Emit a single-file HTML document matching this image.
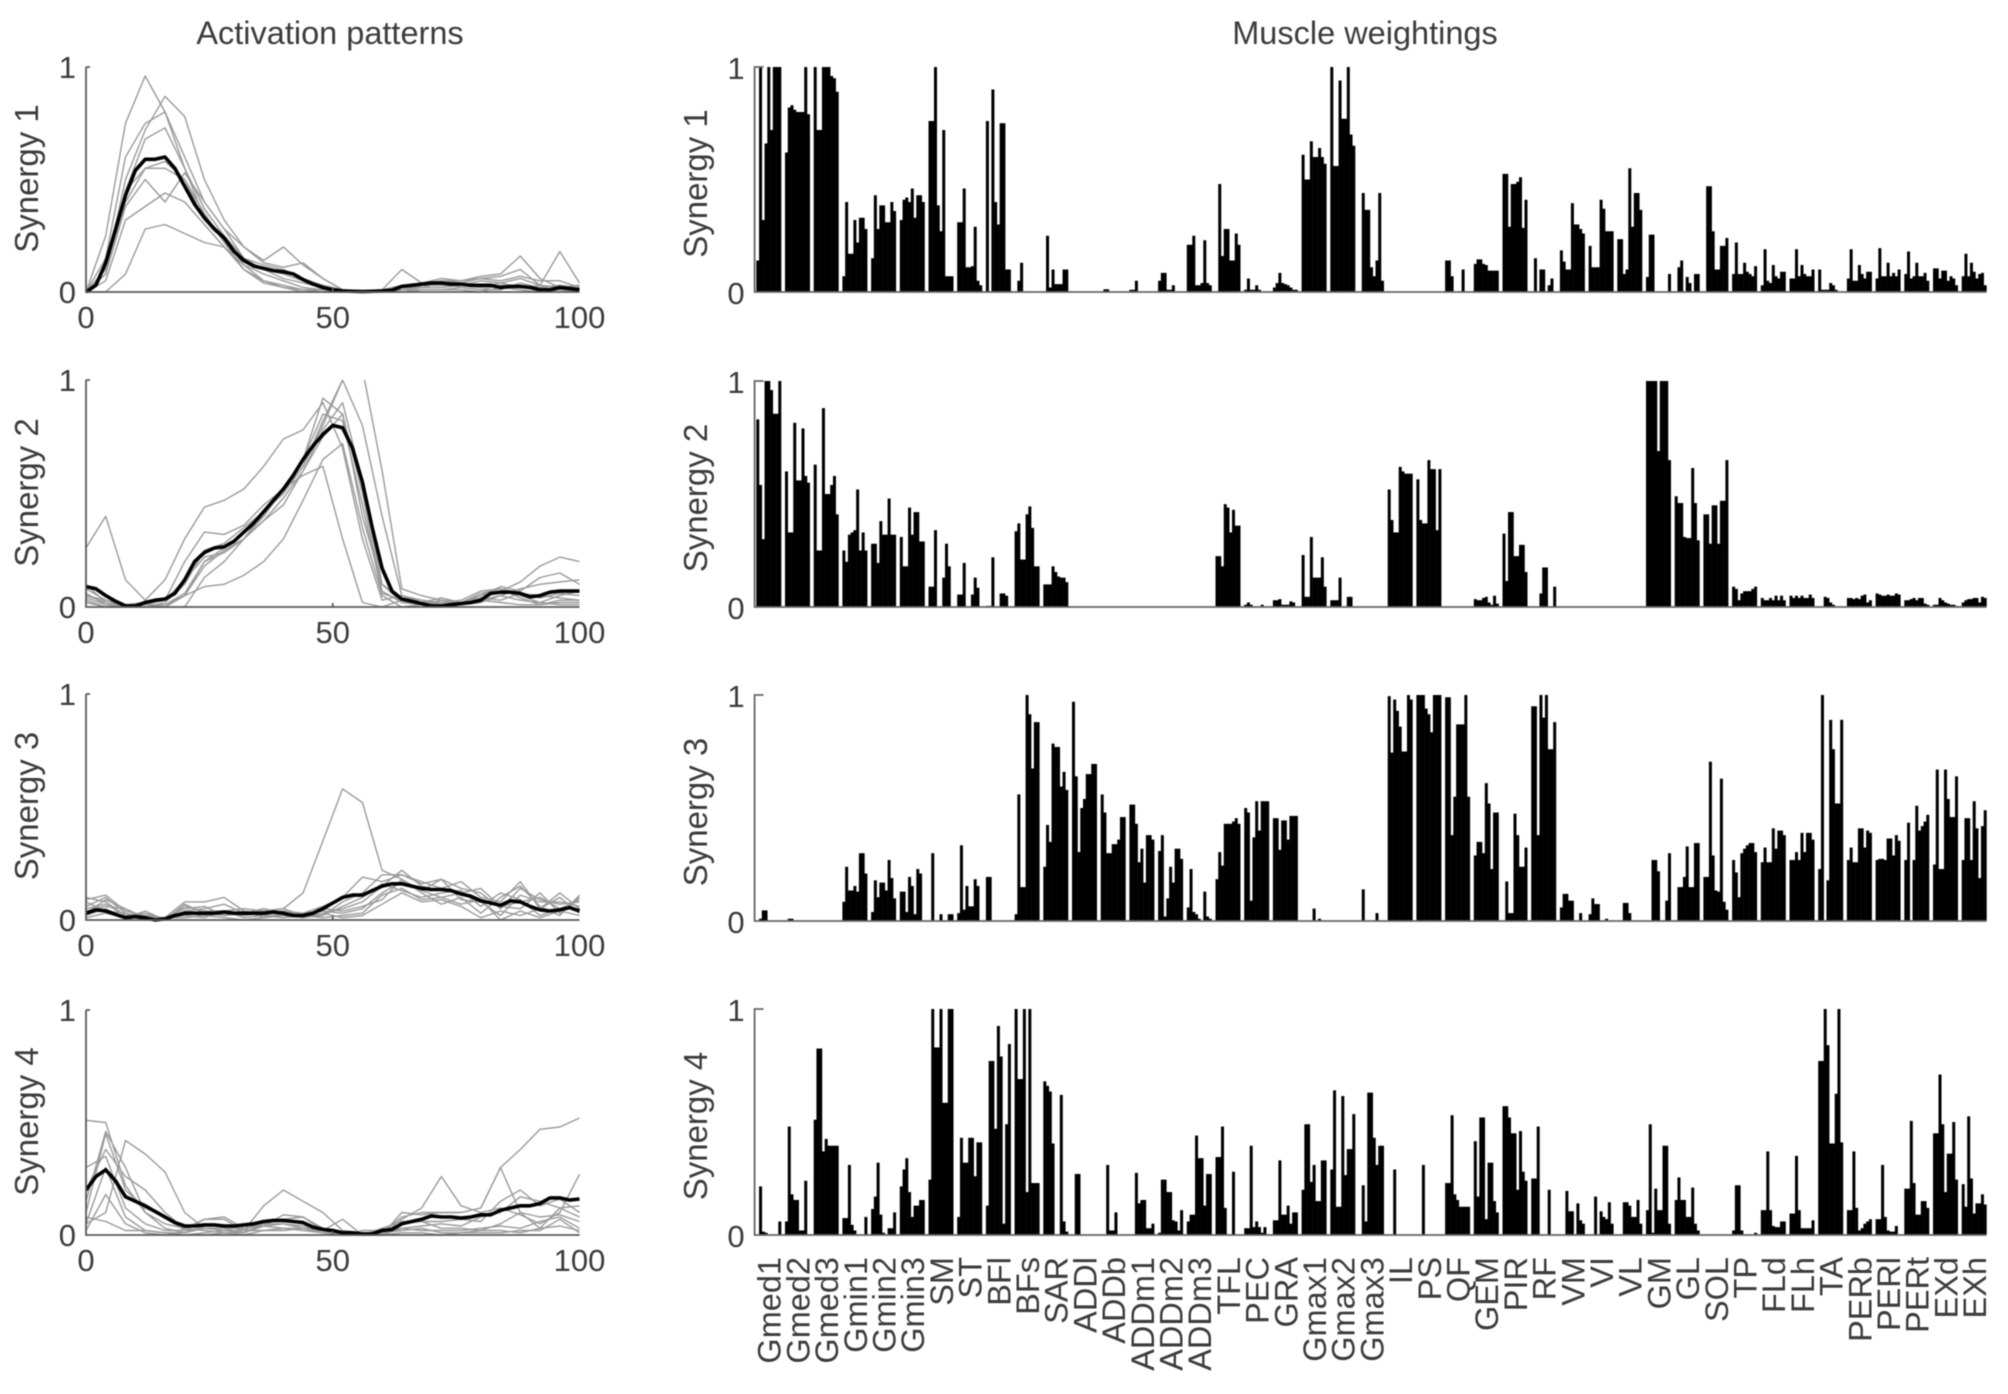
<!DOCTYPE html>
<html>
<head>
<meta charset="utf-8">
<style>
html,body{margin:0;padding:0;background:#fff;}
svg{display:block;filter:blur(0.45px);}
text{font-family:"Liberation Sans",sans-serif;fill:#3c3c3c;}
</style>
</head>
<body>
<svg id="chart" xmlns="http://www.w3.org/2000/svg" width="2008" height="1394" viewBox="0 0 2008 1394"></svg>
<script>
const muscleLabels=["Gmed1","Gmed2","Gmed3","Gmin1","Gmin2","Gmin3","SM","ST","BFl","BFs","SAR","ADDl","ADDb","ADDm1","ADDm2","ADDm3","TFL","PEC","GRA","Gmax1","Gmax2","Gmax3","IL","PS","QF","GEM","PIR","RF","VM","VI","VL","GM","GL","SOL","TP","FLd","FLh","TA","PERb","PERl","PERt","EXd","EXh"];
const xTickLabels=[0,50,100];
const yTickLabels=[0,1];
const panelNames=["Synergy 1","Synergy 2","Synergy 3","Synergy 4"];

const synergy1Weights=[
[.14,1,.32,.66,1,.72,1,1,1],[.62,.82,.83,.81,.8,.8,.8,1,.79],[1,.72,.72,1,1,1,.96,.95,.89],[.07,.4,.17,.17,.32,.22,.33,.33,.28],[.15,.43,.28,.385,.385,.31,.31,.4,.36],
[.32,.41,.42,.4,.46,.33,.43,.43,.4],[.76,.76,1,.385,.27,.72,.07,.07,.07],[.31,.31,.46,.11,.11,.115,.29,.05,.03],[.76,0,.9,.4,.3,.75,.75,.1,.1],[0,.05,.13,0,0,0,0,0,0],
[0,.25,.02,.1,.035,.035,.035,.1,.1],[0,0,0,0,0,0,0,0,0],[0,.012,.012,0,0,0,0,0,0],[.01,.01,.05,0,0,0,0,0,0],[.05,.085,.085,.01,.01,.03,0,0,0],
[.21,.21,.25,.03,.03,.04,.23,.04,.03],[0,.48,.16,.28,.28,.14,.14,.26,.21],[.01,.06,.01,.01,.03,.01,0,0,0],[.02,.04,.085,.04,.035,.03,.02,.01,.01],[.61,.5,.5,.67,.6,.6,.64,.6,.57],
[1,.56,.56,.94,.77,.77,1,.7,.65],[0,.44,.365,.365,.11,.07,.14,.44,.05],[0,0,0,0,0,0,0,0,0],[0,0,0,0,0,0,0,0,0],[.14,.14,.07,0,0,0,.1,0,0],
[.125,.145,.145,.125,.12,.095,.095,.095,.095],[.525,.525,.29,.48,.48,.49,.51,.285,.41],[0,.15,0,.1,.1,0,.03,.06,0],[.185,.135,.1,.1,.395,.3,.3,.28,.26],[.205,.11,.11,.11,.41,.37,.27,.27,.27],
[.235,.235,.08,.1,.55,.29,.44,.44,.365],[.067,.255,.255,0,0,0,0,0,.08],[0,.11,.14,0,.067,.04,0,.08,.08],[0,.47,.47,.27,.1,.1,.205,.205,.24],[.08,.22,.08,.08,.13,.09,.08,.07,.115],
[.03,.19,.05,.04,.12,.07,.06,.09,.09],[.06,.06,.19,.07,.12,.08,.07,.07,.1],[.1,.01,.01,.01,.04,.03,.01,0,0],[.06,.19,.05,.05,.12,.08,.06,.09,.09],[.06,.195,.07,.07,.13,.07,.085,.07,.1],
[.08,.18,.06,.07,.13,.07,.07,.085,.05],[.105,.105,.06,.095,.095,.05,.07,.06,.03],[.07,.17,.07,.13,.09,.06,.08,.085,.03]];

const synergy2Weights=[
[.83,.54,.3,1,1,.96,.855,.855,1],[.6,.33,.33,.815,.56,.56,.79,.58,.55],[.63,.25,.25,.88,.5,.5,.54,.58,.41],[.25,.2,.32,.33,.34,.52,.25,.33,.25],[.28,.28,.195,.38,.32,.32,.48,.32,.32],
[.31,.18,.18,.44,.32,.42,.42,.29,.29],[.09,.09,.34,0,0,.13,.28,.18,0],[.055,.055,.195,0,0,.055,.13,.085,0],[.005,.005,.22,0,0,.06,.06,.05,0],[.335,.37,.21,.21,.41,.445,.35,.18,.18],
[.1,.1,.1,.18,.155,.135,.13,.13,.11],[0,0,0,0,0,0,0,0,0],[0,0,0,0,0,0,0,0,0],[0,0,0,0,0,0,0,0,0],[0,0,0,0,0,0,0,0,0],
[0,0,0,0,0,0,0,0,0],[.225,.225,.18,.455,.44,.33,.43,.36,.36],[.01,.02,.01,0,0,0,.01,0,0],[.03,.03,.035,.01,.01,.01,.025,.02,0],[.23,.045,.045,.31,.13,.13,.13,.22,.09],
[.03,.03,.03,.13,0,0,.045,.045,0],[0,0,0,0,0,0,0,0,0],[.52,.385,.33,.33,.62,.6,.59,.59,.59],[.565,.385,.37,.37,.65,.61,.61,.34,.61],[0,0,0,0,0,0,0,0,0],
[.035,.03,.03,.04,.045,.02,.01,.05,.015],[.325,.115,.42,.42,.225,.225,.275,.275,.155],[0,0,0,.06,.175,.175,0,0,.09],[0,0,0,0,0,0,0,0,0],[0,0,0,0,0,0,0,0,0],
[0,0,0,0,0,0,0,0,0],[1,1,1,1,.69,1,1,1,.65],[.49,.46,.46,.31,.305,.305,.615,.46,.295],[.41,.41,.28,.45,.45,.28,.47,.47,.65],[.09,.08,.03,.06,.07,.07,.07,.08,.09],
[.04,.03,.03,.04,.03,.05,.03,.05,.03],[.05,.04,.05,.04,.05,.04,.04,.055,.04],[0,0,.045,.04,.02,.01,0,0,0],[.04,.04,.035,.04,.035,.05,.055,.02,.03],[.06,.055,.05,.05,.055,.05,.05,.06,.055],
[.03,.03,.035,.04,.03,.04,.04,.015,.01],[.01,.01,.04,.03,.02,.015,.01,.01,.005],[.02,.03,.035,.035,.04,.04,.02,.045,.04]];

const synergy3Weights=[
[0,.01,.047,.047,0,0,0,0,0],[0,.01,.01,0,0,0,0,0,0],[0,0,0,0,0,0,0,0,0],[.085,.24,.135,.135,.155,.13,.3,.3,.21],[.04,.18,.105,.17,.17,.135,.27,.19,.1],
[.13,.13,.04,.195,.155,.03,.23,.21,0],[0,.3,0,0,.03,0,0,.03,.03],[.035,.335,.05,.155,.065,.065,.185,.155,0],[.195,.195,0,0,0,0,0,0,0],[.03,.56,.15,.15,1,.915,.675,.88,.88],
[.24,.425,.35,.785,.77,.77,.595,.66,.58],[.97,.64,.305,.5,.54,.65,.65,.695,.695],[.56,.48,.3,.3,.34,.34,.36,.46,.46],[.515,.515,.43,.26,.32,.17,.38,.38,.36],[.31,.38,.02,.1,.24,.17,.32,.32,.275],
[.06,.23,.04,.03,.01,0,.13,.02,.01],[.185,.305,.245,.43,.43,.43,.44,.455,.43],[.5,.48,.09,.37,.53,.4,.53,.53,.53],[.455,.455,.315,.445,.445,.36,.465,.465,.465],[0,0,0,0,.055,0,.01,0,0],
[0,0,0,0,0,0,0,0,0],[0,.14,0,0,0,0,.035,0,0],[.995,.745,.98,.93,.86,.75,.75,1,.98],[1,1,1,.94,.915,.835,1,1,1],[.99,.99,.38,.55,.87,.87,.87,1,.55],
[.29,.35,.35,.3,.61,.52,.23,.48,.48],[0,.175,.035,.035,.475,.38,.24,.24,.325],[.95,.95,.38,1,.9,1,.76,.76,.88],[.06,.12,.12,.09,.09,0,0,.035,0],[.03,.1,.075,.075,0,0,.01,0,0],
[0,0,.08,.08,.035,0,0,0,0],[0,0,.27,.27,.22,0,0,.09,.3],[0,.15,.15,.195,.33,.15,.15,.345,.345],[.195,.195,.705,.29,.135,.13,.63,.085,.05],[.27,.215,.105,.3,.32,.335,.345,.345,.305],
[.26,.325,.26,.26,.41,.32,.4,.4,.38],[.27,.27,.305,.27,.39,.305,.39,.39,.36],[.23,1,0,.18,.89,.76,.52,.52,.89],[.27,.325,.26,.26,.41,.41,.325,.4,.39],[.27,.275,.275,.27,.365,.365,.29,.38,.355],
[.27,.435,0,.27,.51,.4,.42,.44,.47],[.25,.67,.23,.23,.67,.54,.46,.46,.64],[.27,.455,.455,.27,.53,.41,.19,.42,.49]];

const synergy4Weights=[
[0,.215,.015,.01,0,0,0,0,.06],[.06,.48,.18,.155,.155,.02,.02,.24,0],[.51,.825,.825,.37,.425,.395,.395,.395,.395],[.075,.075,.31,.045,.02,0,0,0,.08],[.115,.17,.32,.09,.01,0,.03,.03,.1],
[.215,.29,.34,.19,.08,.13,.13,.155,.155],[.245,1,.83,.83,1,.585,.585,1,1],[.08,.43,.32,.32,.43,.43,.26,.41,.41],[.13,.77,.77,.47,.925,.79,.05,.49,.845],[1,.69,.69,1,.19,1,.23,.23,.23],
[.68,.66,.635,.405,0,0,.62,.06,.015],[0,.27,.27,0,0,0,0,0,0],[0,0,.31,.02,.02,.1,0,0,0],[0,0,.275,.14,.155,.155,.03,.03,.05],[.01,.245,.245,.19,.19,.065,.06,.02,.11],
[.06,.09,.09,.44,.34,.34,.13,.27,.27],[.345,.345,.48,.12,0,0,.28,0,0],[.03,.03,.395,.035,.06,.035,.01,.035,0],[.065,.065,.33,.09,.09,.13,.05,.1,.1],[.2,.49,.49,.235,.31,.15,.15,.33,.33],
[.29,.64,.125,.125,.615,.265,.38,.38,.535],[0,.22,.06,.63,.63,.43,.31,.395,.395],[0,0,.29,0,0,0,0,0,0],[0,0,.31,0,0,0,0,0,0],[.23,.23,.53,.18,.155,.125,.125,.125,.125],
[.415,.17,.52,.52,.07,.32,.32,.15,.1],[.57,.57,.52,.45,.45,.2,.46,.28,.24],[.25,.25,.48,0,0,0,.2,0,0],[0,0,.195,.105,.105,0,.14,.065,.05],[0,0,.17,0,.105,.08,.07,.145,.05],
[0,0,.145,.145,.13,.08,.08,.155,.05],[.11,.49,.01,.205,.11,.11,.395,.395,.05],[.155,.255,.155,.155,.08,.08,.21,.05,.02],[0,0,0,0,0,0,0,0,0],[.02,.22,.22,.02,0,0,0,0,.01],
[.11,.11,.37,.11,.04,.035,.035,.06,.06],[.095,.095,.35,.11,.03,.03,.03,.03,.065],[.77,.77,1,.84,.405,.405,.625,1,.41],[.11,.11,.37,.12,.02,.03,.05,.06,.07],[.07,.07,.31,.08,.02,.015,.015,.04,0],
[.205,.205,.505,.23,.09,.09,.15,.15,.12],[.45,.45,.71,.49,.19,.36,.36,.5,.245],[.225,.125,.525,.25,.095,.14,.14,.18,.135]];

const subjectX=[0,4,8,12,16,20,24,28,32,36,40,44,48,52,56,60,64,68,72,76,80,84,88,92,96,100];
const meanX=[0,2,4,6,8,10,12,14,16,18,20,22,24,26,28,30,32,34,36,38,40,42,44,46,48,50,52,54,56,58,60,62,64,66,68,70,72,74,76,78,80,82,84,86,88,90,92,94,96,98,100];

const synergy1Subjects=[
[0,.25,.75,.96,.8,.55,.33,.25,.15,.12,.1,.06,.03,.01,0,.01,.03,.02,.04,.03,.05,.04,.06,.03,.02,.01],
[0,.1,.5,.72,.87,.78,.5,.32,.2,.14,.2,.12,.06,.01,0,.01,.1,.04,.05,.05,.06,.07,.1,.03,.18,.04],
[0,.15,.6,.75,.8,.6,.4,.28,.2,.13,.11,.13,.06,.01,0,0,.02,.04,.06,.05,.07,.08,.16,.06,.02,.03],
[0,.08,.45,.68,.73,.55,.37,.25,.15,.1,.08,.05,.03,.01,0,0,.01,.03,.05,.04,.06,.05,.07,.05,.05,.02],
[0,.1,.45,.55,.58,.5,.32,.24,.12,.08,.05,.02,.01,0,0,0,.02,.03,.03,.03,.02,.03,.02,.02,.03,.02],
[0,.08,.38,.5,.4,.53,.4,.28,.15,.1,.06,.04,.02,.01,0,.01,.01,.02,.04,.02,.01,.03,.03,.02,.01,.01],
[0,.05,.32,.38,.44,.4,.3,.2,.1,.05,.03,.01,.01,0,0,0,.01,.01,.01,.02,.01,.01,.04,.02,.03,.02],
[0,0,.08,.28,.3,.26,.22,.2,.12,.05,.02,.01,0,0,0,0,.01,.02,.02,.03,.02,.04,.02,.03,.02,.03],
[0,.1,.4,.55,.55,.5,.35,.22,.1,.04,.02,0,0,0,0,0,0,.01,.01,.01,0,.02,.01,0,.01,0]];
const synergy1Mean=[0,.03,.13,.28,.43,.54,.59,.59,.6,.55,.47,.39,.33,.28,.24,.18,.14,.115,.105,.095,.09,.08,.055,.035,.02,.01,.005,.003,.002,.003,.005,.008,.025,.03,.035,.04,.04,.035,.035,.03,.03,.03,.02,.025,.025,.02,.01,.01,.02,.015,.01];

const synergy2Subjects=[
[.26,.4,.12,.03,.12,.3,.44,.47,.52,.62,.74,.78,.9,.7,.3,.03,.05,.02,.04,.02,.05,.07,.11,.18,.22,.2],
[.05,.03,0,0,.02,.1,.25,.28,.35,.42,.5,.62,.8,1,1.05,.6,.08,.05,.03,.02,.03,.05,.08,.1,.11,.12],
[.1,.02,0,0,.01,.05,.18,.25,.3,.42,.5,.62,.82,1,.8,.4,.05,.03,.01,.02,.04,.07,.05,.02,.05,.07],
[.05,.02,0,0,0,.05,.2,.26,.33,.4,.52,.65,.92,.85,.4,.1,.02,.01,.03,.02,.06,.08,.04,.01,.03,.03],
[.04,.01,0,0,0,0,.13,.2,.3,.4,.52,.58,.62,.3,.02,0,.03,.02,.01,.01,.02,.05,.03,.02,.01,.01],
[.02,0,0,0,0,.05,.09,.1,.14,.2,.3,.47,.65,.72,.35,.05,0,.01,.01,.02,.04,.03,.06,.05,.04,.03],
[.03,0,0,.01,.01,.06,.2,.24,.3,.38,.45,.6,.75,.85,.5,.07,.02,.02,.02,.03,.07,.08,.06,.04,.06,.05],
[.06,.01,0,.01,.03,.2,.33,.32,.36,.45,.52,.65,.85,.82,.45,.06,.03,.02,.01,.02,.03,.02,.01,.01,.02,.02],
[.08,.03,.01,.02,.03,.12,.22,.24,.3,.38,.48,.6,.78,.9,.55,.1,.04,.03,.02,.02,.05,.09,.07,.13,.15,.1]];
const synergy2Mean=[.09,.08,.05,.025,.005,.005,.02,.03,.035,.06,.12,.2,.24,.26,.265,.29,.33,.37,.42,.47,.52,.58,.65,.71,.76,.8,.79,.7,.55,.35,.17,.07,.035,.025,.015,.005,.005,.01,.015,.02,.03,.06,.065,.065,.06,.045,.05,.065,.07,.07,.07];

const synergy3Subjects=[
[.03,.09,.05,0,0,.04,.05,.07,.03,.04,.05,.12,.35,.58,.52,.22,.18,.13,.1,.12,.09,.06,.08,.1,.05,.05],
[.06,.1,.03,.01,.01,.08,.08,.1,.04,.03,.03,.03,.06,.1,.19,.17,.2,.16,.18,.14,.12,.05,.14,.09,.07,.08],
[.1,.08,.02,.03,0,.06,.04,.04,.05,.04,.05,.02,.02,.08,.12,.2,.2,.17,.14,.17,.1,.08,.17,.05,.12,.05],
[.04,.06,.05,.01,0,.07,.03,.02,.03,.05,.03,.01,.03,.05,.08,.15,.22,.15,.13,.12,.14,.06,.05,.12,.03,.1],
[.02,.05,.01,.04,0,.03,.02,.03,.02,.03,.04,.03,.04,.03,.05,.12,.17,.13,.18,.09,.08,.02,.11,.08,.08,.06],
[.09,.11,.04,.02,.01,.05,.06,.02,.03,.02,.02,.01,.02,.06,.1,.16,.13,.1,.12,.13,.06,.12,.09,.02,.05,.09],
[.05,.07,.02,0,.01,.02,.01,.04,.01,.02,.01,.02,.05,.04,.06,.09,.18,.12,.07,.1,.03,.1,.15,.06,.02,.11],
[.01,.03,.01,.01,0,.04,.03,.02,.04,.01,.03,.02,.01,.02,.03,.11,.14,.09,.1,.07,.09,0,.04,.01,.04,.02],
[.08,.04,.03,.01,.01,.01,.02,.01,0,.01,.02,.01,.03,.01,.02,.07,.12,.08,.09,.06,.01,.04,.02,.05,.1,.03]];
const synergy3Mean=[.03,.045,.04,.025,.01,.015,.01,0,.005,.02,.03,.03,.03,.03,.035,.03,.03,.03,.03,.035,.03,.02,.02,.03,.05,.075,.1,.11,.11,.13,.15,.16,.16,.15,.14,.135,.135,.13,.115,.105,.085,.075,.065,.085,.08,.06,.045,.04,.045,.055,.04];

const synergy4Subjects=[
[.3,.35,.12,.05,.02,.02,.03,.03,.03,.05,.05,.03,.01,.01,0,.01,.08,.1,.1,.1,.12,.3,.38,.47,.48,.52],
[.05,.1,.42,.36,.28,.1,.03,.02,.02,.02,.02,.03,.01,0,0,0,.07,.12,.26,.13,.1,.12,.09,.05,.1,.27],
[.1,.45,.2,.12,.08,.02,.07,.07,.02,.13,.2,.15,.1,.02,.01,0,.1,.09,.1,.1,.12,.3,.1,.03,.12,.08],
[.51,.5,.22,.1,.05,.03,.02,.01,.01,.05,.07,.08,.02,.07,0,.03,.06,.06,.06,.07,.06,.15,.2,.13,.16,.1],
[.2,.38,.26,.2,.1,.03,.07,.08,.03,.04,.09,.08,.03,0,.02,.02,.03,.04,.05,.04,.08,.1,.17,.15,.12,.13],
[.15,.46,.3,.1,.03,.01,.04,.04,.02,.06,.06,.06,.02,0,0,.01,.05,.06,.03,.03,.02,.05,.1,.08,.09,.06],
[.05,.3,.08,.02,.01,0,.01,.02,.01,.04,.05,.04,.01,0,0,0,.03,.02,.02,.02,.03,.04,.03,.06,.08,.03],
[.08,.06,.02,.02,.01,.01,.03,.03,.01,.04,.03,.03,.02,0,0,.01,.02,.03,.01,.01,.02,.02,.01,.03,.04,.02],
[.02,.18,.05,.01,0,0,0,.01,0,.02,.03,.02,.01,0,0,0,.01,.01,0,.01,.01,.01,.02,.02,.07,.01]];
const synergy4Mean=[.2,.26,.29,.24,.17,.15,.13,.105,.08,.055,.04,.04,.045,.045,.04,.04,.045,.05,.06,.065,.065,.06,.055,.035,.025,.02,.01,.01,.005,.005,.02,.025,.05,.06,.07,.085,.08,.08,.075,.08,.09,.09,.11,.12,.13,.13,.14,.165,.165,.155,.16];

const weightSets=[synergy1Weights,synergy2Weights,synergy3Weights,synergy4Weights];
const subjectSets=[synergy1Subjects,synergy2Subjects,synergy3Subjects,synergy4Subjects];
const meanSets=[synergy1Mean,synergy2Mean,synergy3Mean,synergy4Mean];

const NS='http://www.w3.org/2000/svg';
const svg=document.getElementById('chart');
const leftTop=[67,380,694,1010], leftBottom=[292,607,920,1235];
const rightTop=[67,381,695,1009], rightBottom=[292,607,921,1235];
const leftX0=86, leftX1=579.5, rightX0=754.6, groupPitch=28.7, barPitch=2.75, groupInset=1.7;

function mk(tag,attrs,parent){
  const el=document.createElementNS(NS,tag);
  for(const k in attrs) el.setAttribute(k,attrs[k]);
  (parent||svg).appendChild(el);
  return el;
}
function xLeft(v){return leftX0+(leftX1-leftX0)*v/100;}
function yLeft(p,v){return leftBottom[p]-(leftBottom[p]-leftTop[p])*v;}
function yRight(p,v){return rightBottom[p]-(rightBottom[p]-rightTop[p])*v;}
function xBar(g,j){return rightX0+groupInset+groupPitch*g+barPitch*j;}

const defs=mk('defs',{});
for(let p=0;p<4;p++){
  const cp=mk('clipPath',{id:'clip-left-'+p},defs);
  mk('rect',{x:leftX0,y:leftTop[p],width:leftX1-leftX0+2,height:leftBottom[p]-leftTop[p]+2},cp);
}

const t1=mk('text',{x:330,y:44,'font-size':32.5,'text-anchor':'middle'});


t1.textContent='Activation patterns';
const t2=mk('text',{x:1365,y:44,'font-size':32.5,'text-anchor':'middle'});


t2.textContent='Muscle weightings';

for(let p=0;p<4;p++){
  /* ---------- left: activation pattern ---------- */
  const gL=mk('g',{});
  
  
  const lines=mk('g',{'clip-path':'url(#clip-left-'+p+')',fill:'none'},gL);
  subjectSets[p].forEach(function(series,s){
    const pts=series.map(function(v,i){return xLeft(subjectX[i]).toFixed(1)+','+yLeft(p,v).toFixed(1);}).join(' ');
    const pl=mk('polyline',{points:pts,stroke:'#9a9a9a','stroke-width':1.4,'stroke-linejoin':'round'},lines);
    
    
  });
  const mpts=meanSets[p].map(function(v,i){return xLeft(meanX[i]).toFixed(1)+','+yLeft(p,v).toFixed(1);}).join(' ');
  const ml=mk('polyline',{points:mpts,stroke:'#000','stroke-width':3.6,'stroke-linejoin':'round'},lines);
  
  

  const axL=mk('path',{d:'M'+leftX0+' '+leftTop[p]+'H'+(leftX0+4)+'M'+leftX0+' '+leftTop[p]+'V'+leftBottom[p]+'H'+leftX1+'M'+xLeft(50)+' '+leftBottom[p]+'v-4',stroke:'#5a5a5a','stroke-width':1.8,fill:'none'},gL);
  
  

  yTickLabels.forEach(function(v){
    const tx=mk('text',{x:leftX0-10,y:yLeft(p,v)+11,'font-size':31,'text-anchor':'end'},gL);
    
    
    tx.textContent=v;
  });
  xTickLabels.forEach(function(v){
    const tx=mk('text',{x:xLeft(v),y:leftBottom[p]+36,'font-size':31,'text-anchor':'middle'},gL);
    
    
    tx.textContent=v;
  });
  const ylab=mk('text',{'font-size':33,'text-anchor':'middle',transform:'translate(38,'+((leftTop[p]+leftBottom[p])/2-1)+') rotate(-90)'},gL);
  
  
  ylab.textContent=panelNames[p];

  /* ---------- right: muscle weightings ---------- */
  const gR=mk('g',{});
  
  
  weightSets[p].forEach(function(group,g){
    group.forEach(function(v,j){
      const y=yRight(p,v);
      const r=mk('rect',{x:xBar(g,j).toFixed(2),y:y.toFixed(2),width:barPitch+0.25,height:(rightBottom[p]-y).toFixed(2),fill:'#000'},gR);
      
      
    });
  });
  const axR=mk('path',{d:'M'+(rightX0+9)+' '+rightTop[p]+'H'+rightX0+'V'+rightBottom[p]+'H'+(xBar(42,9)),stroke:'#666','stroke-width':1.8,fill:'none'},gR);
  
  
  yTickLabels.forEach(function(v){
    const tx=mk('text',{x:rightX0-10,y:yRight(p,v)+12,'font-size':31,'text-anchor':'end'},gR);
    
    
    tx.textContent=v;
  });
  const ylab2=mk('text',{'font-size':33,'text-anchor':'middle',transform:'translate(707,'+((rightTop[p]+rightBottom[p])/2+4)+') rotate(-90)'},gR);
  
  
  ylab2.textContent=panelNames[p];
}

muscleLabels.forEach(function(name,g){
  const cx=xBar(g,4.5);
  const tx=mk('text',{'font-size':32.5,'text-anchor':'end',transform:'translate('+(cx+12).toFixed(1)+',1257) rotate(-90)'});
  
  
  tx.textContent=name;
});
</script>
</body>
</html>
